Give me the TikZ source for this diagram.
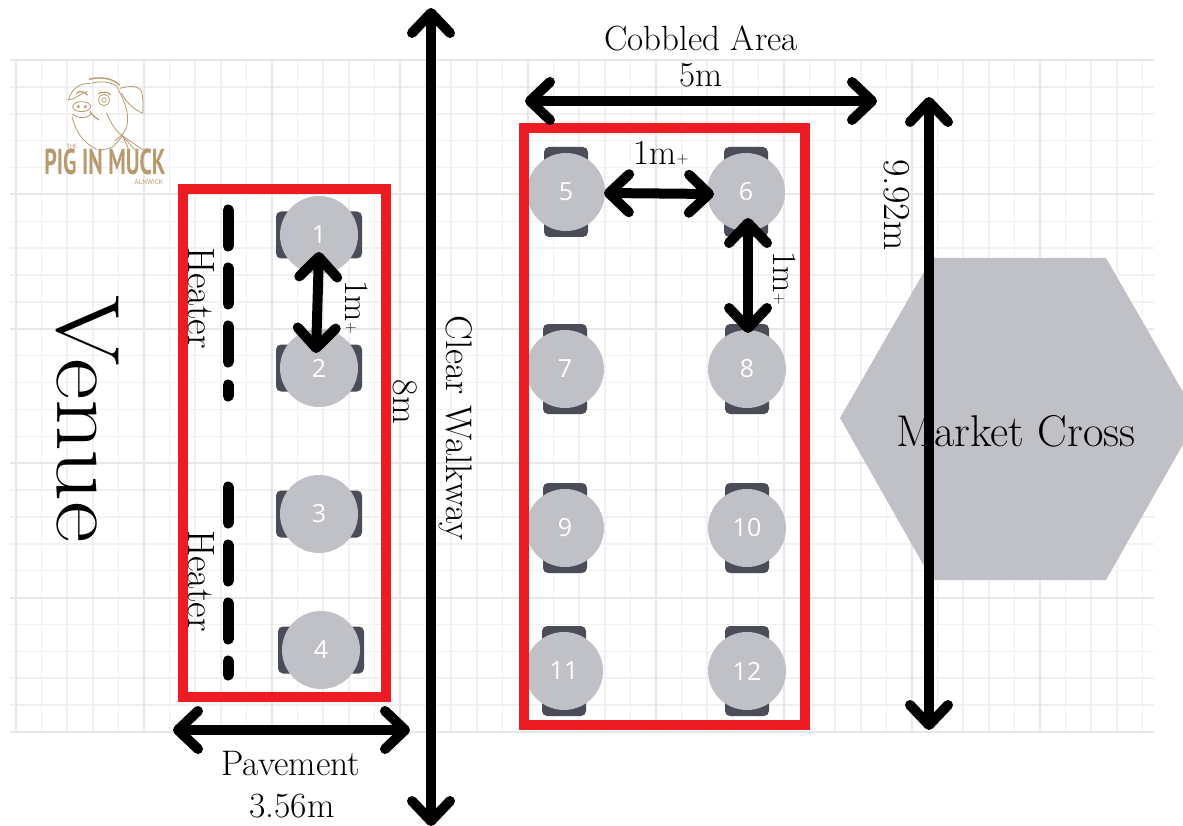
\documentclass[tikz,border=0pt]{standalone}
\usepackage{fontspec}
\usetikzlibrary{arrows.meta,shapes.geometric}
\newfontfamily\numfont{Open Sans}
\newfontfamily\logofont{PT Sans}
\definecolor{gridmajor}{HTML}{E6E7EB}
\definecolor{gridminor}{HTML}{F1F1F3}
\definecolor{tablegrey}{HTML}{C0C1C6}
\definecolor{chairdark}{HTML}{4A4C57}
\definecolor{boxred}{HTML}{ED1C24}
\definecolor{logotan}{HTML}{B89A6E}
\newcommand{\fsz}[1]{\fontsize{#1}{#1}\selectfont}
\newcommand{\onem}[2]{1m{\fsz{#2}\raisebox{1pt}{+}}}
\tikzset{
  tablecircle/.style={circle,fill=tablegrey,minimum size=78pt,inner sep=0pt,text=white,font=\numfont\fsz{25}},
  hchair/.style={rectangle,rounded corners=5pt,fill=chairdark,minimum width=86pt,minimum height=47pt,inner sep=0pt},
  vchair/.style={rectangle,rounded corners=5pt,fill=chairdark,minimum width=44pt,minimum height=90pt,inner sep=0pt},
  tablebox/.style={draw=boxred,line width=10pt,miter limit=10},
  barrow/.style={line width=10pt,line cap=round,
    {Straight Barb[round,length=20pt,width=38pt]}-{Straight Barb[round,length=20pt,width=38pt]}},
  heaterline/.style={line width=11pt,line cap=round,black},
  lbl/.style={inner sep=0pt,text=black},
  logoline/.style={draw=logotan,line width=0.8pt,line cap=round,line join=round},
}
\begin{document}
\begin{tikzpicture}[x=1pt,y=-1pt]
\useasboundingbox (0,0) rectangle (1183,826);
\clip (0,0) rectangle (1183,826);
\fill[white] (0,0) rectangle (1183,826);
% grid
\foreach \i in {0,...,44}{
  \pgfmathsetmacro{\gx}{16+25.6*\i}
  \draw[gridminor,line width=1.5pt] (\gx,60) -- (\gx,732);
}
\foreach \i in {0,...,25}{
  \pgfmathsetmacro{\gy}{60+26.88*\i}
  \draw[gridminor,line width=1.5pt] (10,\gy) -- (1154,\gy);
}
\foreach \i in {0,...,8}{
  \pgfmathsetmacro{\gx}{16+128*\i}
  \draw[gridmajor,line width=2.2pt] (\gx,60) -- (\gx,732);
}
\foreach \i in {0,...,5}{
  \pgfmathsetmacro{\gy}{60+134.4*\i}
  \draw[gridmajor,line width=2.2pt] (10,\gy) -- (1154,\gy);
}
% market cross
\fill[tablegrey] (840,418) -- (932,258) -- (1106,258) -- (1198,418) -- (1106,580) -- (932,580) -- cycle;
% logo (coordinates are those of a 3x crop)
\begin{scope}[shift={(0,50)},x=0.3333pt,y=-0.3333pt]
  \draw[logoline] (205,150) .. controls (215,115) and (240,100) .. (270,100);
  \draw[logoline] (205,150) .. controls (225,150) and (240,130) .. (262,125);
  \draw[logoline,line width=1.4pt] (268,88) .. controls (295,80) and (335,82) .. (358,105);
  \draw[logoline] (275,100) .. controls (300,92) and (330,95) .. (350,108);
  \draw[logoline] (360,115) .. controls (385,108) and (415,105) .. (425,125) .. controls (430,150) and (430,170) .. (428,190) .. controls (405,180) and (380,160) .. (365,130);
  \draw[logoline] (350,108) .. controls (365,140) and (395,190) .. (378,235) .. controls (370,255) and (355,265) .. (345,272);
  \draw[logoline] (312,150) circle[radius=17];
  \draw[logoline] (312,150) circle[radius=7];
  \draw[logoline,line width=1.2pt] (230,130) .. controls (240,120) and (255,125) .. (262,135);
  \draw[logoline,line width=1.2pt] (296,130) .. controls (310,125) and (325,125) .. (332,135);
  \draw[logoline] (245,170) ellipse[x radius=27,y radius=15];
  \fill[logotan] (235,170) circle[radius=5] (256,170) circle[radius=5];
  \draw[logoline] (218,192) .. controls (228,205) and (260,208) .. (274,192);
  \draw[logoline] (216,200) .. controls (228,245) and (245,275) .. (290,298);
  \draw[logoline,line width=1.2pt] (270,185) .. controls (280,200) and (290,205) .. (297,210);
  \draw[logoline] (320,190) .. controls (335,225) and (350,245) .. (368,258);
  \draw[logoline] (368,258) -- (430,300);
  \draw[logoline] (368,258) -- (405,300);
  \draw[logoline] (368,258) -- (385,295);
  \draw[logoline] (368,258) -- (340,290);
  \draw[logoline] (340,290) .. controls (330,295) and (315,298) .. (300,300);
\end{scope}
\node[lbl,text=logotan,font=\logofont\bfseries\fsz{36},xscale=0.61] (logotext) at (105,162) {PIG IN MUCK};
\node[lbl,text=logotan,font=\logofont\fsz{6}] (logothe) at (72,146) {THE};
\node[lbl,text=logotan,font=\logofont\fsz{7}] (logotown) at (149,182) {ALNWICK};
% tables with side chairs
\foreach \n/\x/\y in {1/319/235,2/319/368,3/319/514,4/321/650}{
  \node[hchair] (c\n) at (\x,\y) {};
  \node[tablecircle] (t\n) at (\x,\y) {\n};
}
% tables with chairs above and below
\foreach \n/\x/\y in {5/566/192,6/746/192,7/565/369,8/747/369,9/565/528,10/747/528,11/564/671,12/747/671}{
  \node[vchair] (c\n) at (\x,\y) {};
  \node[tablecircle] (t\n) at (\x,\y) {\n};
}
% red boxes
\draw[tablebox] (183,189) rectangle (386,697);
\draw[tablebox] (524,128) rectangle (805,725);
% heaters
\foreach \a/\b in {210/246,268/304,326/362,385/396,487/523,545/581,603/639,661/675}{
  \draw[heaterline] (228,\a) -- (228,\b);
}
% arrow ends
\coordinate (walkA) at (431,8);
\coordinate (walkB) at (431,826);
\coordinate (fiveA) at (525,101);
\coordinate (fiveB) at (877,101);
\coordinate (nineA) at (929,97);
\coordinate (nineB) at (929,730);
\coordinate (paveA) at (173,730);
\coordinate (paveB) at (410,730);
\coordinate (gapA) at (604,193);
\coordinate (gapB) at (714,194);
\coordinate (gapC) at (748,218);
\coordinate (gapD) at (748,333);
\coordinate (gapE) at (319,252);
\coordinate (gapF) at (316,353);
\draw[barrow] (walkA) -- (walkB);
\draw[barrow] (fiveA) -- (fiveB);
\draw[barrow] (nineA) -- (nineB);
\draw[barrow] (paveA) -- (paveB);
\draw[barrow] (gapA) -- (gapB);
\draw[barrow] (gapC) -- (gapD);
\draw[barrow] (gapE) -- (gapF);
% labels
\node[lbl,rotate=-90,xscale=1.13,font=\fsz{90}] (venue) at (88,419) {Venue};
\node[lbl,font=\fsz{35}] (cobbled) at (701,38) {Cobbled Area};
\node[lbl,font=\fsz{35}] (five) at (701,75) {5m};
\node[lbl,font=\fsz{35.5}] (pavement) at (291,764) {Pavement};
\node[lbl,font=\fsz{35.5}] (threefive) at (292,806) {3.56m};
\node[lbl,rotate=-90,font=\fsz{37}] (walkway) at (456,428) {Clear Walkway};
\node[lbl,rotate=-90,font=\fsz{36}] (eight) at (405,402) {8m};
\node[lbl,rotate=-90,font=\fsz{38}] (ninetwo) at (897,205) {9.92m};
\node[lbl,rotate=-90,font=\fsz{38}] (heatA) at (201,298) {Heater};
\node[lbl,rotate=-90,font=\fsz{38}] (heatB) at (201,581) {Heater};
\node[lbl,font=\fsz{35}] (oneA) at (661,153) {\onem{35}{16}};
\node[lbl,rotate=-90,font=\fsz{34}] (oneB) at (785,278) {\onem{34}{16}};
\node[lbl,rotate=-90,font=\fsz{34}] (oneC) at (357,307) {\onem{34}{16}};
\node[lbl,font=\fsz{44.5}] (market) at (1016,431) {Market Cross};
\end{tikzpicture}
\end{document}
